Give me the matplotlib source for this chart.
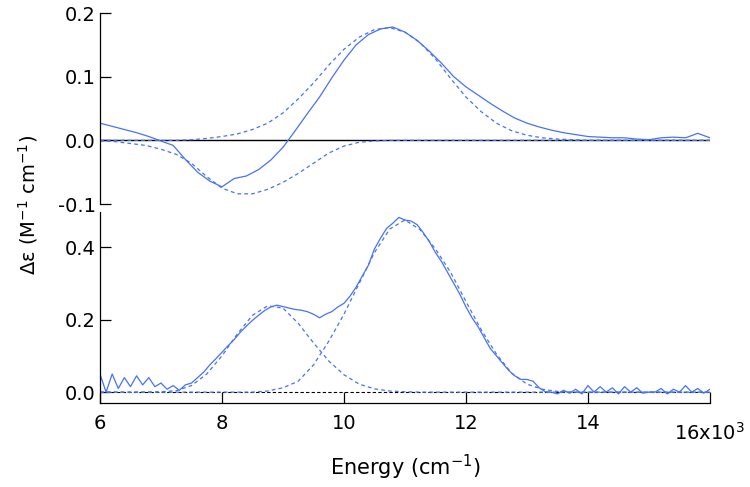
import numpy as np
import matplotlib
matplotlib.use("Agg")
import matplotlib.pyplot as plt
from matplotlib.ticker import FormatStrFormatter

plt.rcParams['font.family'] = ['DejaVu Sans']
plt.rcParams['axes.unicode_minus'] = False

# energy grids (cm-1)
e_fit = np.arange(6000, 16001, 250)
e_top = np.arange(6000, 16001, 200)
e_bot = np.arange(6000, 16001, 100)

top_meas = [0.027, 0.022, 0.017, 0.012, 0.006, -0.001, -0.008, -0.030, -0.050, -0.064,
            -0.073, -0.060, -0.056, -0.046, -0.031, -0.011, 0.015, 0.042, 0.068, 0.098,
            0.126, 0.150, 0.166, 0.175, 0.178, 0.170, 0.157, 0.140, 0.121, 0.100,
            0.084, 0.071, 0.058, 0.046, 0.035, 0.027, 0.021, 0.016, 0.012, 0.009,
            0.006, 0.005, 0.004, 0.004, 0.002, 0.001, 0.004, 0.005, 0.004, 0.011,
            0.004]

# top panel fitted bands
top_fit_neg = [-0.001, -0.002, -0.005, -0.008, -0.014, -0.022, -0.036, -0.057, -0.075, -0.084,
               -0.084, -0.077, -0.066, -0.052, -0.036, -0.020, -0.009, -0.003, -0.001, 0.0,
               0.0, 0.0, 0.0, 0.0, 0.0, 0.0, 0.0, 0.0, 0.0, 0.0,
               0.0, 0.0, 0.0, 0.0, 0.0, 0.0, 0.0, 0.0, 0.0, 0.0, 0.0]
top_fit_pos = [0.0, 0.0, 0.0, 0.0, 0.0, 0.0, 0.001, 0.003, 0.006, 0.010,
               0.017, 0.027, 0.043, 0.065, 0.090, 0.118, 0.143, 0.162, 0.174, 0.177,
               0.170, 0.153, 0.128, 0.097, 0.068, 0.045, 0.027, 0.015, 0.008, 0.004,
               0.002, 0.001, 0.0, 0.0, 0.0, 0.0, 0.0, 0.0, 0.0, 0.0, 0.0]

# bottom panel: measured trace
bot_meas = [0.050, 0.000, 0.050, 0.010, 0.040, 0.015, 0.045, 0.020, 0.040, 0.015,
            0.025, 0.008, 0.018, 0.005, 0.020, 0.025, 0.040, 0.055, 0.075, 0.092,
            0.110, 0.128, 0.145, 0.165, 0.182, 0.198, 0.212, 0.225, 0.235, 0.240,
            0.236, 0.232, 0.228, 0.226, 0.222, 0.215, 0.205, 0.215, 0.222, 0.235,
            0.245, 0.265, 0.290, 0.320, 0.350, 0.395, 0.425, 0.452, 0.466, 0.482,
            0.475, 0.472, 0.462, 0.440, 0.415, 0.385, 0.360, 0.330, 0.300, 0.270,
            0.235, 0.205, 0.180, 0.150, 0.120, 0.100, 0.080, 0.060, 0.045, 0.035,
            0.035, 0.030, 0.012, 0.001, 0.000, -0.005, 0.005, -0.003, 0.008, -0.005,
            0.018, 0.000, 0.015, 0.000, 0.012, -0.005, 0.015, 0.000, 0.012, -0.003,
            0.000, 0.000, 0.010, -0.005, 0.008, 0.000, 0.018, 0.000, 0.010, -0.003,
            0.008]

# bottom panel fitted bands
bot_fit_1 = [0.0, 0.0, 0.0, 0.0, 0.001, 0.004, 0.018, 0.050, 0.100, 0.160,
             0.212, 0.238, 0.232, 0.190, 0.136, 0.086, 0.048, 0.022, 0.009, 0.003,
             0.001, 0.0, 0.0, 0.0, 0.0, 0.0, 0.0, 0.0, 0.0, 0.0,
             0.0, 0.0, 0.0, 0.0, 0.0, 0.0, 0.0, 0.0, 0.0, 0.0, 0.0]
bot_fit_2 = [0.0, 0.0, 0.0, 0.0, 0.0, 0.0, 0.0, 0.0, 0.0, 0.0,
             0.0, 0.003, 0.012, 0.030, 0.075, 0.140, 0.215, 0.300, 0.385, 0.450,
             0.475, 0.448, 0.395, 0.330, 0.250, 0.172, 0.105, 0.052, 0.022, 0.008,
             0.002, 0.0, 0.0, 0.0, 0.0, 0.0, 0.0, 0.0, 0.0, 0.0, 0.0]

blue = '#4673f2'
dash = (0, (3, 2.5))

fig = plt.figure(figsize=(7.5, 4.87), dpi=100)
ax1 = fig.add_axes([0.1333, 0.5811, 0.8133, 0.3922])
ax2 = fig.add_axes([0.1333, 0.1725, 0.8133, 0.3922])

# top panel
ax1.axhline(0, color='black', lw=1.0)
ax1.plot(e_fit, top_fit_neg, color=blue, lw=0.9, ls=dash)
ax1.plot(e_fit, top_fit_pos, color=blue, lw=0.9, ls=dash)
ax1.plot(e_top, top_meas, color=blue, lw=0.9)
ax1.set_xlim(6000, 16000)
ax1.set_ylim(-0.1, 0.2)
ax1.set_yticks([-0.1, 0.0, 0.1, 0.2])
ax1.yaxis.set_major_formatter(FormatStrFormatter('%.1f'))
for s in ['top', 'right', 'bottom']:
    ax1.spines[s].set_visible(False)
ax1.set_xticks([])

# bottom panel
ax2.axhline(0, color='black', lw=0.8, ls=(0, (3, 2)))
ax2.plot(e_fit, bot_fit_1, color=blue, lw=0.9, ls=dash)
ax2.plot(e_fit, bot_fit_2, color=blue, lw=0.9, ls=dash)
ax2.plot(e_bot, bot_meas, color=blue, lw=0.9)
ax2.set_xlim(6000, 16000)
ax2.set_ylim(-0.030, 0.497)
ax2.set_yticks([0.0, 0.2, 0.4])
ax2.yaxis.set_major_formatter(FormatStrFormatter('%.1f'))
ax2.set_xticks([6000, 8000, 10000, 12000, 14000, 16000])
ax2.set_xticklabels(['6', '8', '10', '12', '14', ''])
for s in ['top', 'right']:
    ax2.spines[s].set_visible(False)

for ax in (ax1, ax2):
    ax.tick_params(direction='in', length=8, width=0.9, labelsize=14, pad=3)
    for s in ax.spines.values():
        s.set_linewidth(0.9)
ax2.tick_params(axis='x', pad=8)

ax2.text(16000, -0.082, r'16x10$^{3}$', ha='center', va='top', fontsize=14)
ax2.set_xlabel(r'Energy (cm$^{-1}$)', fontsize=15, labelpad=14)
fig.text(0.037, 0.58, '\u0394\u03b5 (M$^{-1}$ cm$^{-1}$)', rotation=90,
         ha='center', va='center', fontsize=14)

fig.savefig('out.png', dpi=100)
